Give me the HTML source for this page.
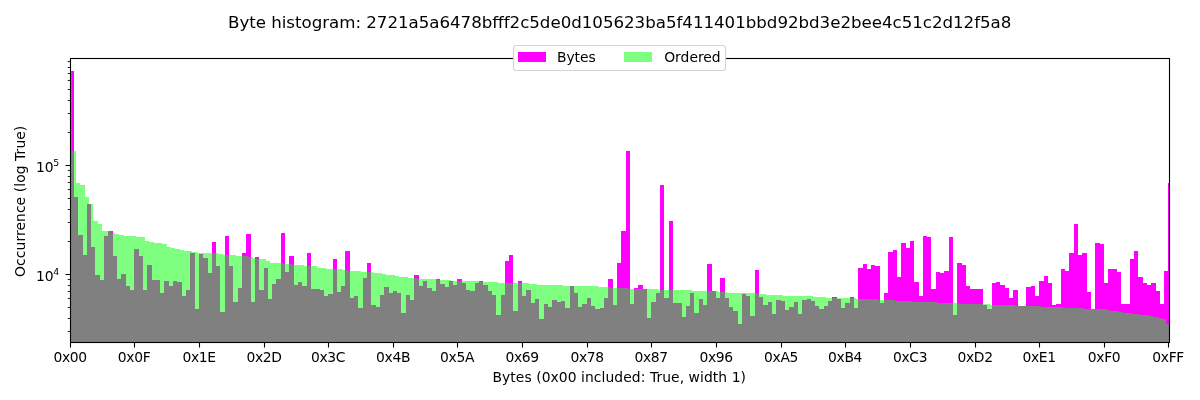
<!DOCTYPE html>
<html lang="en"><head><meta charset="utf-8"><title>Byte histogram</title>
<style>
html,body{margin:0;padding:0;background:#fff;}
body{width:1200px;height:400px;overflow:hidden;}
svg{display:block;}
text{font-family:"DejaVu Sans","Liberation Sans",sans-serif;fill:#000;}
.t10{font-size:13.89px;}
.t12{font-size:16.67px;}
</style></head><body>
<svg width="1200" height="400" viewBox="0 0 1200 400">
<rect width="1200" height="400" fill="#fff"/>
<path d="M70 342V71H74V342ZM74 342V197H78V342ZM78 342V235H83V342ZM83 342V255H87V342ZM87 342V204H91V342ZM91 342V247H95V342ZM95 342V275H100V342ZM100 342V280H104V342ZM104 342V236H108V342ZM108 342V231H113V342ZM113 342V256H117V342ZM117 342V279H121V342ZM121 342V274H126V342ZM126 342V286H130V342ZM130 342V290H134V342ZM134 342V249H139V342ZM139 342V256H143V342ZM143 342V290H147V342ZM147 342V265H152V342ZM152 342V280H156V342ZM156 342V280H160V342ZM160 342V293H164V342ZM164 342V281H169V342ZM169 342V286H173V342ZM173 342V281H177V342ZM177 342V282H182V342ZM182 342V296H186V342ZM186 342V290H190V342ZM190 342V253H195V342ZM195 342V309H199V342ZM199 342V254H203V342ZM203 342V258H208V342ZM208 342V273H212V342ZM212 342V242H216V342ZM216 342V266H220V342ZM220 342V312H225V342ZM225 342V236H229V342ZM229 342V266H233V342ZM233 342V302H238V342ZM238 342V288H242V342ZM242 342V253H246V342ZM246 342V234H251V342ZM251 342V302H255V342ZM255 342V257H259V342ZM259 342V290H264V342ZM264 342V268H268V342ZM268 342V299H272V342ZM272 342V284H276V342ZM276 342V279H281V342ZM281 342V233H285V342ZM285 342V272H289V342ZM289 342V256H294V342ZM294 342V285H298V342ZM298 342V282H302V342ZM302 342V286H307V342ZM307 342V253H311V342ZM311 342V289H315V342ZM315 342V289H320V342ZM320 342V290H324V342ZM324 342V296H328V342ZM328 342V294H333V342ZM333 342V259H337V342ZM337 342V292H341V342ZM341 342V286H345V342ZM345 342V251H350V342ZM350 342V298H354V342ZM354 342V296H358V342ZM358 342V308H363V342ZM363 342V278H367V342ZM367 342V263H371V342ZM371 342V305H376V342ZM376 342V307H380V342ZM380 342V295H384V342ZM384 342V287H389V342ZM389 342V293H393V342ZM393 342V291H397V342ZM397 342V293H401V342ZM401 342V313H406V342ZM406 342V295H410V342ZM410 342V300H414V342ZM414 342V275H419V342ZM419 342V286H423V342ZM423 342V281H427V342ZM427 342V288H432V342ZM432 342V291H436V342ZM436 342V279H440V342ZM440 342V284H445V342ZM445 342V287H449V342ZM449 342V281H453V342ZM453 342V285H457V342ZM457 342V279H462V342ZM462 342V283H466V342ZM466 342V290H470V342ZM470 342V291H475V342ZM475 342V283H479V342ZM479 342V281H483V342ZM483 342V285H488V342ZM488 342V291H492V342ZM492 342V295H496V342ZM496 342V315H501V342ZM501 342V295H505V342ZM505 342V261H509V342ZM509 342V255H513V342ZM513 342V311H518V342ZM518 342V281H522V342ZM522 342V296H526V342ZM526 342V290H531V342ZM531 342V303H535V342ZM535 342V299H539V342ZM539 342V319H544V342ZM544 342V304H548V342ZM548 342V307H552V342ZM552 342V300H557V342ZM557 342V302H561V342ZM561 342V301H565V342ZM565 342V308H570V342ZM570 342V286H574V342ZM574 342V293H578V342ZM578 342V307H582V342ZM582 342V304H587V342ZM587 342V298H591V342ZM591 342V306H595V342ZM595 342V309H600V342ZM600 342V308H604V342ZM604 342V298H608V342ZM608 342V279H613V342ZM613 342V305H617V342ZM617 342V263H621V342ZM621 342V231H626V342ZM626 342V151H630V342ZM630 342V304H634V342ZM634 342V288H638V342ZM638 342V285H643V342ZM643 342V289H647V342ZM647 342V318H651V342ZM651 342V302H656V342ZM656 342V293H660V342ZM660 342V185H664V342ZM664 342V298H669V342ZM669 342V221H673V342ZM673 342V303H677V342ZM677 342V303H682V342ZM682 342V317H686V342ZM686 342V306H690V342ZM690 342V293H694V342ZM694 342V313H699V342ZM699 342V299H703V342ZM703 342V305H707V342ZM707 342V264H712V342ZM712 342V291H716V342ZM716 342V298H720V342ZM720 342V278H725V342ZM725 342V298H729V342ZM729 342V307H733V342ZM733 342V311H738V342ZM738 342V324H742V342ZM742 342V294H746V342ZM746 342V296H750V342ZM750 342V316H755V342ZM755 342V270H759V342ZM759 342V297H763V342ZM763 342V305H768V342ZM768 342V302H772V342ZM772 342V314H776V342ZM776 342V300H781V342ZM781 342V301H785V342ZM785 342V310H789V342ZM789 342V307H794V342ZM794 342V302H798V342ZM798 342V314H802V342ZM802 342V300H807V342ZM807 342V299H811V342ZM811 342V301H815V342ZM815 342V306H819V342ZM819 342V309H824V342ZM824 342V306H828V342ZM828 342V301H832V342ZM832 342V297H837V342ZM837 342V299H841V342ZM841 342V308H845V342ZM845 342V303H850V342ZM850 342V297H854V342ZM854 342V308H858V342ZM858 342V268H863V342ZM863 342V264H867V342ZM867 342V269H871V342ZM871 342V265H875V342ZM875 342V266H880V342ZM880 342V303H884V342ZM884 342V293H888V342ZM888 342V252H893V342ZM893 342V250H897V342ZM897 342V277H901V342ZM901 342V243H906V342ZM906 342V248H910V342ZM910 342V241H914V342ZM914 342V282H919V342ZM919 342V296H923V342ZM923 342V236H927V342ZM927 342V237H931V342ZM931 342V289H936V342ZM936 342V272H940V342ZM940 342V273H944V342ZM944 342V271H949V342ZM949 342V237H953V342ZM953 342V315H957V342ZM957 342V263H962V342ZM962 342V265H966V342ZM966 342V286H970V342ZM970 342V289H975V342ZM975 342V289H979V342ZM979 342V289H983V342ZM983 342V305H987V342ZM987 342V309H992V342ZM992 342V283H996V342ZM996 342V282H1000V342ZM1000 342V285H1005V342ZM1005 342V288H1009V342ZM1009 342V298H1013V342ZM1013 342V290H1018V342ZM1018 342V306H1022V342ZM1022 342V306H1026V342ZM1026 342V287H1031V342ZM1031 342V286H1035V342ZM1035 342V296H1039V342ZM1039 342V281H1044V342ZM1044 342V276H1048V342ZM1048 342V283H1052V342ZM1052 342V305H1056V342ZM1056 342V304H1061V342ZM1061 342V269H1065V342ZM1065 342V271H1069V342ZM1069 342V253H1074V342ZM1074 342V224H1078V342ZM1078 342V255H1082V342ZM1082 342V253H1087V342ZM1087 342V292H1091V342ZM1091 342V309H1095V342ZM1095 342V243H1100V342ZM1100 342V244H1104V342ZM1104 342V283H1108V342ZM1108 342V269H1112V342ZM1112 342V269H1117V342ZM1117 342V272H1121V342ZM1121 342V304H1125V342ZM1125 342V304H1130V342ZM1130 342V259H1134V342ZM1134 342V251H1138V342ZM1138 342V277H1143V342ZM1143 342V283H1147V342ZM1147 342V285H1151V342ZM1151 342V283H1156V342ZM1156 342V291H1160V342ZM1160 342V304H1164V342ZM1164 342V271H1168V342ZM1168 342V183H1170V342Z" fill="#ff00ff" shape-rendering="crispEdges"/>
<path d="M70 342L70 71L72 71L72 151L76 151L76 183L80 183L80 185L85 185L85 197L89 197L89 204L93 204L93 221L98 221L98 224L102 224L102 231L106 231L106 231L111 231L111 233L115 233L115 234L119 234L119 235L124 235L124 236L128 236L128 236L132 236L132 236L136 236L136 237L141 237L141 237L145 237L145 241L149 241L149 242L154 242L154 243L158 243L158 243L162 243L162 244L167 244L167 247L171 247L171 248L175 248L175 249L180 249L180 250L184 250L184 251L188 251L188 251L192 251L192 252L197 252L197 253L201 253L201 253L205 253L205 253L210 253L210 253L214 253L214 253L218 253L218 254L223 254L223 255L227 255L227 255L231 255L231 255L236 255L236 256L240 256L240 256L244 256L244 256L248 256L248 257L253 257L253 258L257 258L257 259L261 259L261 259L266 259L266 261L270 261L270 263L274 263L274 263L279 263L279 263L283 263L283 264L287 264L287 264L292 264L292 265L296 265L296 265L300 265L300 265L304 265L304 266L309 266L309 266L313 266L313 266L317 266L317 268L322 268L322 268L326 268L326 269L330 269L330 269L335 269L335 269L339 269L339 269L343 269L343 270L348 270L348 271L352 271L352 271L356 271L356 271L361 271L361 272L365 272L365 272L369 272L369 272L373 272L373 273L378 273L378 273L382 273L382 274L386 274L386 275L391 275L391 275L395 275L395 276L399 276L399 277L404 277L404 277L408 277L408 278L412 278L412 278L417 278L417 279L421 279L421 279L425 279L425 279L429 279L429 279L434 279L434 279L438 279L438 280L442 280L442 280L447 280L447 280L451 280L451 281L455 281L455 281L460 281L460 281L464 281L464 281L468 281L468 281L473 281L473 281L477 281L477 281L481 281L481 282L485 282L485 282L490 282L490 282L494 282L494 282L498 282L498 283L503 283L503 283L507 283L507 283L511 283L511 283L516 283L516 283L520 283L520 283L524 283L524 283L529 283L529 284L533 284L533 284L537 284L537 285L541 285L541 285L546 285L546 285L550 285L550 285L554 285L554 285L559 285L559 285L563 285L563 286L567 286L567 286L572 286L572 286L576 286L576 286L580 286L580 286L585 286L585 286L589 286L589 286L593 286L593 286L598 286L598 287L602 287L602 287L606 287L606 287L610 287L610 288L615 288L615 288L619 288L619 288L623 288L623 288L628 288L628 289L632 289L632 289L636 289L636 289L641 289L641 289L645 289L645 289L649 289L649 289L654 289L654 289L658 289L658 290L662 290L662 290L666 290L666 290L671 290L671 290L675 290L675 290L679 290L679 290L684 290L684 290L688 290L688 290L692 290L692 291L697 291L697 291L701 291L701 291L705 291L705 291L710 291L710 291L714 291L714 291L718 291L718 292L722 292L722 292L727 292L727 293L731 293L731 293L735 293L735 293L740 293L740 293L744 293L744 293L748 293L748 293L753 293L753 293L757 293L757 294L761 294L761 294L766 294L766 295L770 295L770 295L774 295L774 295L778 295L778 295L783 295L783 296L787 296L787 296L791 296L791 296L796 296L796 296L800 296L800 296L804 296L804 296L809 296L809 296L813 296L813 297L817 297L817 297L822 297L822 297L826 297L826 298L830 298L830 298L835 298L835 298L839 298L839 298L843 298L843 298L847 298L847 298L852 298L852 298L856 298L856 299L860 299L860 299L865 299L865 299L869 299L869 299L873 299L873 299L878 299L878 300L882 300L882 300L886 300L886 300L891 300L891 300L895 300L895 301L899 301L899 301L903 301L903 301L908 301L908 301L912 301L912 302L916 302L916 302L921 302L921 302L925 302L925 302L929 302L929 302L934 302L934 302L938 302L938 303L942 303L942 303L947 303L947 303L951 303L951 303L955 303L955 303L959 303L959 304L964 304L964 304L968 304L968 304L972 304L972 304L977 304L977 304L981 304L981 304L985 304L985 304L990 304L990 305L994 305L994 305L998 305L998 305L1003 305L1003 305L1007 305L1007 305L1011 305L1011 305L1015 305L1015 306L1020 306L1020 306L1024 306L1024 306L1028 306L1028 306L1033 306L1033 306L1037 306L1037 306L1041 306L1041 307L1046 307L1046 307L1050 307L1050 307L1054 307L1054 307L1059 307L1059 307L1063 307L1063 308L1067 308L1067 308L1072 308L1072 308L1076 308L1076 308L1080 308L1080 308L1084 308L1084 309L1089 309L1089 309L1093 309L1093 309L1097 309L1097 309L1102 309L1102 309L1106 309L1106 310L1110 310L1110 311L1115 311L1115 311L1119 311L1119 312L1123 312L1123 313L1128 313L1128 313L1132 313L1132 314L1136 314L1136 314L1140 314L1140 315L1145 315L1145 315L1149 315L1149 316L1153 316L1153 317L1158 317L1158 318L1162 318L1162 319L1166 319L1166 324L1170 324L1170 342Z" fill="#00ff00" fill-opacity="0.5" shape-rendering="crispEdges"/>
<path d="M70.5 342.5v5M134.5 342.5v5M199.5 342.5v5M264.5 342.5v5M328.5 342.5v5M393.5 342.5v5M457.5 342.5v5M522.5 342.5v5M587.5 342.5v5M651.5 342.5v5M716.5 342.5v5M781.5 342.5v5M845.5 342.5v5M910.5 342.5v5M975.5 342.5v5M1039.5 342.5v5M1104.5 342.5v5M1168.5 342.5v5M70.5 274.5h-5M70.5 165.5h-5" stroke="#000" stroke-width="1.1" fill="none"/>
<path d="M70.5 331.5h-2.8M70.5 318.5h-2.8M70.5 307.5h-2.8M70.5 298.5h-2.8M70.5 291.5h-2.8M70.5 285.5h-2.8M70.5 279.5h-2.8M70.5 241.5h-2.8M70.5 222.5h-2.8M70.5 209.5h-2.8M70.5 198.5h-2.8M70.5 189.5h-2.8M70.5 182.5h-2.8M70.5 176.5h-2.8M70.5 170.5h-2.8M70.5 132.5h-2.8M70.5 113.5h-2.8M70.5 100.5h-2.8M70.5 89.5h-2.8M70.5 80.5h-2.8M70.5 73.5h-2.8M70.5 67.5h-2.8M70.5 61.5h-2.8" stroke="#000" stroke-width="0.85" fill="none"/>
<rect x="70.5" y="58.5" width="1099.0" height="284.0" fill="none" stroke="#000" stroke-width="1.1"/>
<rect x="513.5" y="45.5" width="212" height="25" rx="2.8" ry="2.8" fill="#fff" stroke="#d4d4d4" stroke-width="1.1"/>
<rect x="518" y="52" width="28" height="10" fill="#ff00ff" shape-rendering="crispEdges"/>
<text x="556.9" y="61.7" class="t10">Bytes</text>
<rect x="624" y="52" width="28" height="10" fill="#00ff00" fill-opacity="0.5" shape-rendering="crispEdges"/>
<text x="664.2" y="61.7" class="t10">Ordered</text>
<text x="53.39" y="361.6" textLength="33.73" class="t10">0x00</text>
<text x="117.79" y="361.6" textLength="32.91" class="t10">0x0F</text>
<text x="182.41" y="361.6" textLength="33.67" class="t10">0x1E</text>
<text x="246.48" y="361.6" textLength="35.54" class="t10">0x2D</text>
<text x="310.97" y="361.6" textLength="34.56" class="t10">0x3C</text>
<text x="376.05" y="361.6" textLength="34.40" class="t10">0x4B</text>
<text x="440.07" y="361.6" textLength="34.37" class="t10">0x5A</text>
<text x="505.39" y="361.6" textLength="33.73" class="t10">0x69</text>
<text x="570.39" y="361.6" textLength="33.73" class="t10">0x78</text>
<text x="634.39" y="361.6" textLength="33.73" class="t10">0x87</text>
<text x="699.39" y="361.6" textLength="33.73" class="t10">0x96</text>
<text x="764.07" y="361.6" textLength="34.37" class="t10">0xA5</text>
<text x="828.05" y="361.6" textLength="34.40" class="t10">0xB4</text>
<text x="892.97" y="361.6" textLength="34.56" class="t10">0xC3</text>
<text x="957.48" y="361.6" textLength="35.54" class="t10">0xD2</text>
<text x="1022.41" y="361.6" textLength="33.67" class="t10">0xE1</text>
<text x="1087.79" y="361.6" textLength="32.91" class="t10">0xF0</text>
<text x="1152.20" y="361.6" textLength="32.10" class="t10">0xFF</text>
<text x="492.4" y="382" textLength="253.6" class="t10">Bytes (0x00 included: True, width 1)</text>
<text transform="translate(25.2 276.9) rotate(-90)" textLength="151.2" class="t10">Occurrence (log True)</text>
<text x="35.9" y="171.8" class="t10">10<tspan dy="-5.6" dx="-0.3" font-size="9.4px">5</tspan></text>
<text x="35.9" y="280.8" class="t10">10<tspan dy="-5.6" dx="-0.3" font-size="9.4px">4</tspan></text>
<text x="228.0" y="28.4" textLength="783.4" class="t12">Byte histogram: 2721a5a6478bfff2c5de0d105623ba5f411401bbd92bd3e2bee4c51c2d12f5a8</text>
</svg>
</body></html>
